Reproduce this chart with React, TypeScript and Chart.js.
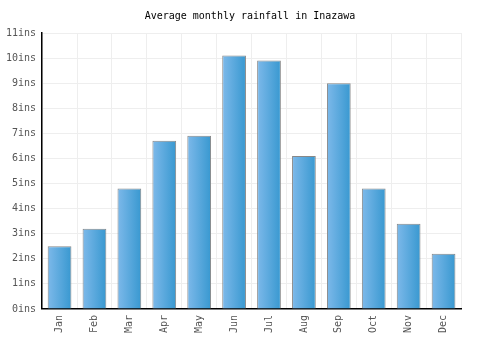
import React, { useEffect, useRef } from "react";
import { Chart, registerables } from "chart.js";

Chart.register(...registerables);

const months = ["Jan", "Feb", "Mar", "Apr", "May", "Jun", "Jul", "Aug", "Sep", "Oct", "Nov", "Dec"];
const rainfall = [2.5, 3.2, 4.8, 6.7, 6.9, 10.1, 9.9, 6.1, 9.0, 4.8, 3.4, 2.2];
const yMax = 11;
const yStep = 1;
const unit = "ins";
const titleText = "Average monthly rainfall in Inazawa";

const FONT = "'DejaVu Sans Mono', monospace";
const BAR_PCT = 0.85;
const CAT_PCT = 0.8;

export default function App() {
  const ref = useRef<HTMLCanvasElement | null>(null);
  useEffect(() => {
    document.body.style.margin = "0";
    const canvas = ref.current!;
    const chart = new Chart(canvas, {
      type: "bar",
      data: {
        labels: months,
        datasets: [
          {
            data: rainfall,
            borderColor: "#888888",
            borderWidth: 1,
            barPercentage: BAR_PCT,
            categoryPercentage: CAT_PCT,
            backgroundColor: (ctx: any) => {
              const c = ctx.chart;
              const xs = c.scales && c.scales.x;
              if (!xs || ctx.dataIndex === undefined) return "#5aa8e0";
              const cx = xs.getPixelForValue(ctx.dataIndex);
              const w = (xs.width / months.length) * BAR_PCT * CAT_PCT;
              if (!isFinite(cx) || !isFinite(w) || w <= 0) return "#5aa8e0";
              const g = c.ctx.createLinearGradient(cx - w / 2, 0, cx + w / 2, 0);
              g.addColorStop(0, "#7db9ea");
              g.addColorStop(1, "#3898d0");
              return g;
            },
          },
        ],
      },
      options: {
        animation: false,
        responsive: false,
        layout: { padding: { left: 0, right: 0, top: 4, bottom: 11 } },
        plugins: {
          legend: { display: false },
          tooltip: { enabled: false },
          title: {
            display: true,
            text: titleText,
            color: "#000",
            font: { family: FONT, size: 10, weight: "normal" },
            padding: { top: 6, bottom: 11 },
          },
        },
        scales: {
          x: {
            grid: { color: "#eeeeee", offset: true, drawTicks: false },
            border: { color: "#000", width: 1.5 },
            ticks: {
              color: "#555",
              font: { family: FONT, size: 10 },
              minRotation: 90,
              maxRotation: 90,
              padding: 6,
            },
          },
          y: {
            min: 0,
            max: yMax,
            grid: { color: "#eeeeee", drawTicks: false },
            border: { color: "#000", width: 1.5 },
            ticks: {
              stepSize: yStep,
              color: "#555",
              font: { family: FONT, size: 10 },
              padding: 6,
              callback: (v: any) => v + unit,
            },
          },
          yRight: {
            position: "right",
            display: true,
            min: 0,
            max: yMax,
            grid: { drawOnChartArea: false, drawTicks: false },
            border: { display: false },
            ticks: { display: false },
            afterFit: (s: any) => {
              s.width = 39;
            },
          },
        },
      },
    });
    return () => chart.destroy();
  }, []);
  return <canvas ref={ref} width={500} height={350} style={{ display: "block" }} />;
}
